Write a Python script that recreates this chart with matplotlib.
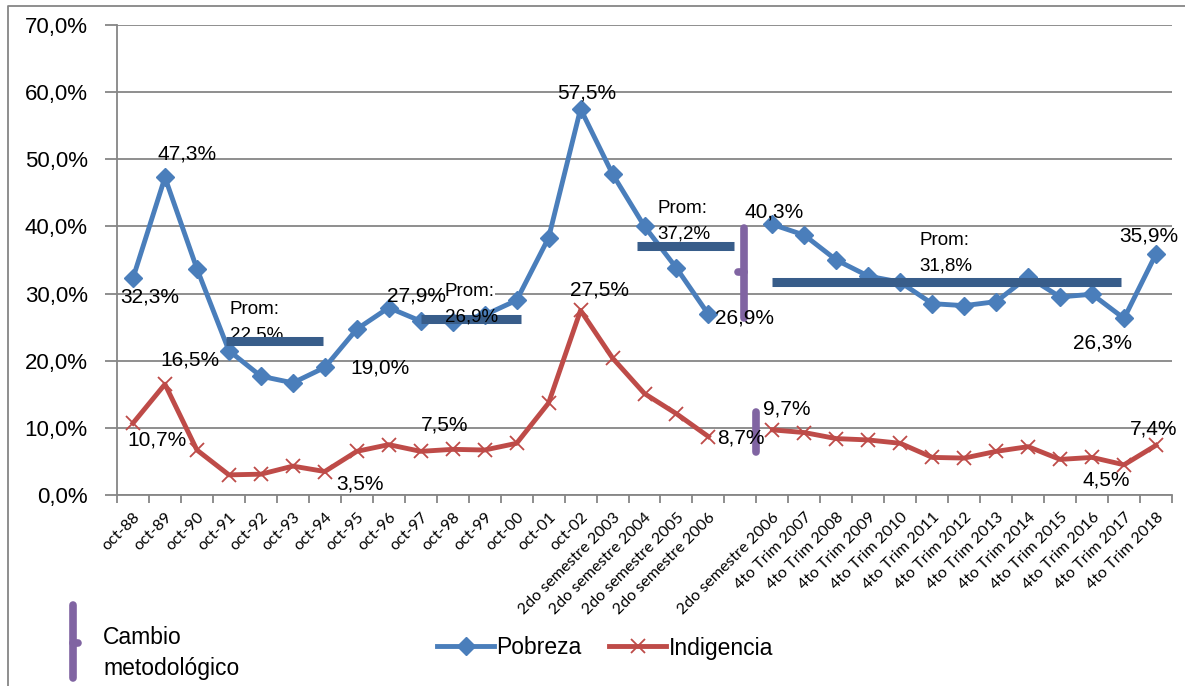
import numpy as np
import matplotlib.pyplot as plt
from matplotlib.lines import Line2D

plt.rcParams['font.family'] = ['Liberation Sans', 'DejaVu Sans']

categories = ['oct-88', 'oct-89', 'oct-90', 'oct-91', 'oct-92', 'oct-93', 'oct-94',
              'oct-95', 'oct-96', 'oct-97', 'oct-98', 'oct-99', 'oct-00', 'oct-01',
              'oct-02', '2do semestre 2003', '2do semestre 2004', '2do semestre 2005',
              '2do semestre 2006', '', '2do semestre 2006', '4to Trim 2007',
              '4to Trim 2008', '4to Trim 2009', '4to Trim 2010', '4to Trim 2011',
              '4to Trim 2012', '4to Trim 2013', '4to Trim 2014', '4to Trim 2015',
              '4to Trim 2016', '4to Trim 2017', '4to Trim 2018']

pobreza = [32.3, 47.3, 33.7, 21.5, 17.7, 16.7, 19.0, 24.7, 27.9, 25.9, 25.8, 26.8,
           29.0, 38.3, 57.5, 47.8, 40.0, 33.8, 26.9, np.nan, 40.3, 38.7, 35.0, 32.6,
           31.7, 28.5, 28.2, 28.8, 32.5, 29.5, 29.9, 26.3, 35.9]

indigencia = [10.7, 16.5, 6.7, 3.0, 3.1, 4.3, 3.5, 6.5, 7.5, 6.5, 6.8, 6.7, 7.7,
              13.7, 27.5, 20.4, 15.1, 12.1, 8.7, np.nan, 9.7, 9.3, 8.4, 8.2, 7.7,
              5.6, 5.5, 6.5, 7.2, 5.3, 5.6, 4.5, 7.4]

# promedios por periodo
prom_values = [22.5, 26.9, 37.2, 31.8]

# label placement (index -> pixel offset)
pob_label_off = {0: (17, -19), 1: (22, 23), 6: (55, -1), 8: (28, 12), 14: (6, 16),
                 18: (36, -4), 20: (2, 12), 31: (-22, -25), 32: (-7, 18)}
ind_label_off = {0: (24, -17), 1: (25, 24), 6: (35, -12), 8: (56, 20), 14: (19, 20),
                 18: (32, -1), 20: (14, 21), 31: (-18, -15), 32: (-2, 16)}
prom_spans = [(2.9, 5.95), (9.0, 12.15), (15.75, 18.8), (20.0, 30.9)]
prom_bar_shift = [0.4, -0.7, -0.1, -0.1]
prom_text_pos = [(3.03, 28.9), (9.75, 31.6), (16.4, 44.0), (24.6, 39.2)]

W, H = 1185, 686
fig = plt.figure(figsize=(W / 100, H / 100), dpi=100)
ax = fig.add_axes([117 / W, 1 - 495 / H, (1172 - 117) / W, (495 - 25) / H])

blue = '#4A7EBB'
red = '#BE4B48'
grid = '#868686'
x = np.arange(len(categories))

ax.set_xlim(-0.5, len(categories) - 0.5)
ax.set_ylim(0, 70)
ax.set_yticks(np.arange(0, 71, 10))
ax.set_yticklabels([f'{v:.1f}%'.replace('.', ',') for v in np.arange(0, 71, 10)],
                   fontsize=16)
ax.yaxis.grid(True, color=grid, lw=1.3)
ax.set_axisbelow(True)
for s in ['top', 'right']:
    ax.spines[s].set_visible(False)
for s in ['left', 'bottom']:
    ax.spines[s].set_color(grid)
    ax.spines[s].set_linewidth(1.3)
ax.tick_params(axis='y', length=9, width=1.3, color=grid, pad=12)

# category boundaries as major ticks, labels on minor ticks
ax.set_xticks(np.arange(-0.5, len(categories) + 0.5, 1))
ax.set_xticklabels([])
ax.tick_params(axis='x', which='major', length=6, width=1.3, color=grid)
ax.set_xticks(x, minor=True)
ax.set_xticklabels(categories, minor=True, rotation=45, ha='right',
                   rotation_mode='anchor', fontsize=11.5, family=['Lato', 'DejaVu Sans'])
ax.tick_params(axis='x', which='minor', length=0, pad=11)

ax.plot(x, pobreza, color=blue, lw=3.5, marker='D', markersize=9, zorder=3,
        label='Pobreza')
ax.plot(x, indigencia, color=red, lw=3.5, marker='x', markersize=10, mew=1.3,
        zorder=3, label='Indigencia')

def fmt(v):
    return f'{v:.1f}%'.replace('.', ',')

for i, (dx, dy) in pob_label_off.items():
    ax.annotate(fmt(pobreza[i]), (x[i], pobreza[i]), xytext=(dx, dy),
                textcoords='offset pixels', ha='center', va='center', fontsize=15,
                zorder=7)
for i, (dx, dy) in ind_label_off.items():
    ax.annotate(fmt(indigencia[i]), (x[i], indigencia[i]), xytext=(dx, dy),
                textcoords='offset pixels', ha='center', va='center', fontsize=15,
                zorder=7)

# average bars and their labels
bar_col = '#385D8A'
for k, (val, (x0, x1), (tx, ty)) in enumerate(zip(prom_values, prom_spans, prom_text_pos)):
    yb = val + prom_bar_shift[k]
    ax.plot([x0, x1], [yb, yb], color=bar_col, lw=6.5, solid_capstyle='butt', zorder=5)
    ax.text(tx, ty, 'Prom:', ha='left', va='top', fontsize=13.5, zorder=4,
            bbox=dict(facecolor='white', edgecolor='none', pad=0.5))
    ax.annotate(fmt(val), (tx, ty), xytext=(0, -26), textcoords='offset pixels',
                ha='left', va='top', fontsize=13.5, zorder=6 if k == 1 else 4)

# methodological change markers
purple = '#8064A2'

def bracket(xs, ys, **kw):
    return Line2D(xs, ys, color=purple, lw=5.5, solid_capstyle='round',
                  solid_joinstyle='round', **kw)

ax.add_line(bracket([19.1, 19.1], [26.4, 39.8], zorder=6))
ax.add_line(bracket([18.93, 19.1], [33.2, 33.2], zorder=6))
ax.add_line(bracket([19.5, 19.5], [6.4, 12.4], zorder=6))

# legend
leg = ax.legend(loc='center', bbox_to_anchor=(605 / W, 1 - 648 / H),
                bbox_transform=fig.transFigure, ncol=2, frameon=False,
                fontsize=16.5, handlelength=2.5, handletextpad=0.1,
                columnspacing=1.2)

fig.add_artist(bracket([73 / W, 73 / W], [1 - 605 / H, 1 - 678 / H],
                       transform=fig.transFigure))
fig.add_artist(bracket([73 / W, 78 / W], [1 - 643 / H, 1 - 643 / H],
                       transform=fig.transFigure))
fig.text(103 / W, 1 - 637 / H, 'Cambio', ha='left', va='center', fontsize=16.5)
fig.text(103 / W, 1 - 668 / H, 'metodológico', ha='left', va='center', fontsize=16.5)

# outer border
fig.add_artist(Line2D([8 / W, 8 / W, 1], [0, 1 - 6 / H, 1 - 6 / H],
                      color=grid, lw=1.3, transform=fig.transFigure))

fig.savefig('out.png', dpi=100)
